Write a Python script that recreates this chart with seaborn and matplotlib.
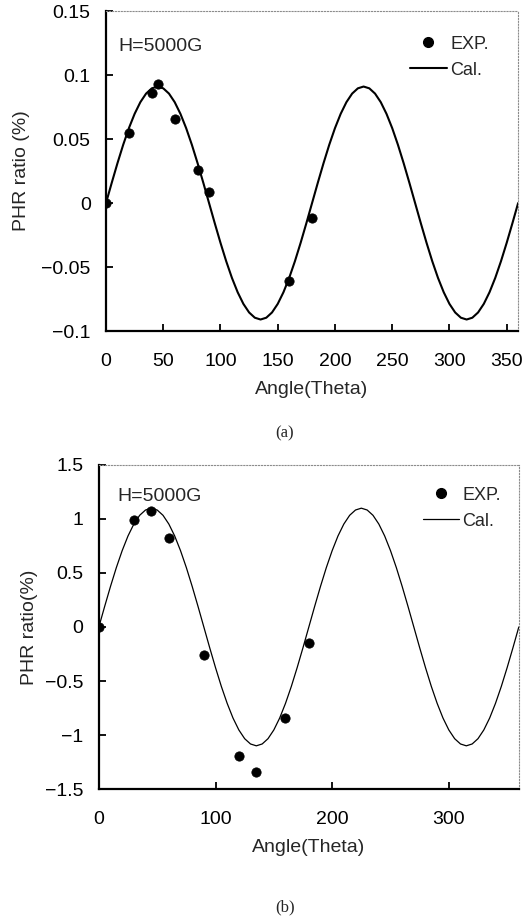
import numpy as np
import matplotlib
matplotlib.use("Agg")
import matplotlib.pyplot as plt
import seaborn as sns
from matplotlib.lines import Line2D

# measured points (EXP.) and calculated curve (Cal.) for both panels
exp_a_theta = [0, 20, 40, 45, 60, 80, 90, 160, 180]
exp_a_phr = [0.0, 0.055, 0.0856, 0.093, 0.066, 0.0255, 0.009, -0.061, -0.012]

exp_b_theta = [0, 30, 45, 60, 90, 120, 135, 160, 180]
exp_b_phr = [0.0, 0.99, 1.07, 0.82, -0.256, -1.19, -1.34, -0.84, -0.145]

cal_theta = [0, 5, 10, 15, 20, 25, 30, 35, 40, 45, 50, 55, 60, 65, 70, 75, 80, 85,
             90, 95, 100, 105, 110, 115, 120, 125, 130, 135, 140, 145, 150, 155, 160, 165, 170, 175,
             180, 185, 190, 195, 200, 205, 210, 215, 220, 225, 230, 235, 240, 245, 250, 255, 260, 265,
             270, 275, 280, 285, 290, 295, 300, 305, 310, 315, 320, 325, 330, 335, 340, 345, 350, 355, 360]

cal_a = [0, 0.0158, 0.0311, 0.0455, 0.0585, 0.0697, 0.0788, 0.0855, 0.0896, 0.091,
         0.0896, 0.0855, 0.0788, 0.0697, 0.0585, 0.0455, 0.0311, 0.0158,
         0, -0.0158, -0.0311, -0.0455, -0.0585, -0.0697, -0.0788, -0.0855, -0.0896, -0.091,
         -0.0896, -0.0855, -0.0788, -0.0697, -0.0585, -0.0455, -0.0311, -0.0158,
         0, 0.0158, 0.0311, 0.0455, 0.0585, 0.0697, 0.0788, 0.0855, 0.0896, 0.091,
         0.0896, 0.0855, 0.0788, 0.0697, 0.0585, 0.0455, 0.0311, 0.0158,
         0, -0.0158, -0.0311, -0.0455, -0.0585, -0.0697, -0.0788, -0.0855, -0.0896, -0.091,
         -0.0896, -0.0855, -0.0788, -0.0697, -0.0585, -0.0455, -0.0311, -0.0158, 0]

cal_b = [0, 0.191, 0.376, 0.55, 0.707, 0.843, 0.953, 1.034, 1.083, 1.1,
         1.083, 1.034, 0.953, 0.843, 0.707, 0.55, 0.376, 0.191,
         0, -0.191, -0.376, -0.55, -0.707, -0.843, -0.953, -1.034, -1.083, -1.1,
         -1.083, -1.034, -0.953, -0.843, -0.707, -0.55, -0.376, -0.191,
         0, 0.191, 0.376, 0.55, 0.707, 0.843, 0.953, 1.034, 1.083, 1.1,
         1.083, 1.034, 0.953, 0.843, 0.707, 0.55, 0.376, 0.191,
         0, -0.191, -0.376, -0.55, -0.707, -0.843, -0.953, -1.034, -1.083, -1.1,
         -1.083, -1.034, -0.953, -0.843, -0.707, -0.55, -0.376, -0.191, 0]

sns.set_style("ticks")
plt.rcParams['font.family'] = ['Liberation Sans', 'DejaVu Sans']

fig = plt.figure(figsize=(5.23, 9.18), dpi=100)
ax_a = fig.add_axes([0.2027, 0.6394, 0.788, 0.3486])
ax_b = fig.add_axes([0.189, 0.1405, 0.803, 0.353])


def style_axes(ax, xticks, yticks, ylim, ylabel, ytick_labels, ylabelpad):
    ax.set_xlim(0, 360)
    ax.set_ylim(*ylim)
    ax.set_xticks(xticks)
    ax.set_yticks(yticks)
    ax.set_yticklabels(ytick_labels)
    for side in ['left', 'bottom']:
        ax.spines[side].set_color('black')
        ax.spines[side].set_linewidth(1.6)
    for side in ['top', 'right']:
        ax.spines[side].set_visible(True)
        ax.spines[side].set_color('0.55')
        ax.spines[side].set_linewidth(0.8)
        ax.spines[side].set_linestyle(':')
    ax.tick_params(direction='in', length=5, width=1.3, labelsize=14, colors='black')
    ax.tick_params(axis='x', pad=16)
    ax.tick_params(axis='y', pad=11)
    ax.set_xlabel('Angle(Theta)', fontsize=14, labelpad=8)
    ax.set_ylabel(ylabel, fontsize=14, labelpad=ylabelpad)
    ax.grid(False)


# panel (a)
sns.lineplot(x=cal_theta, y=cal_a, color='black', linewidth=1.5, ax=ax_a)
sns.scatterplot(x=exp_a_theta, y=exp_a_phr, color='black', edgecolor='black', s=45, ax=ax_a, zorder=3)
style_axes(ax_a, [0, 50, 100, 150, 200, 250, 300, 350], [-0.1, -0.05, 0, 0.05, 0.1, 0.15],
           (-0.1, 0.15), 'PHR ratio (%)', ['\u22120.1', '\u22120.05', '0', '0.05', '0.1', '0.15'], 8)
ax_a.text(10.5, 0.1225, 'H=5000G', fontsize=14, va='center', ha='left')

# panel (b)
sns.lineplot(x=cal_theta, y=cal_b, color='black', linewidth=0.9, ax=ax_b)
sns.scatterplot(x=exp_b_theta, y=exp_b_phr, color='black', edgecolor='black', s=45, ax=ax_b, zorder=3)
style_axes(ax_b, [0, 100, 200, 300], [-1.5, -1, -0.5, 0, 0.5, 1, 1.5],
           (-1.5, 1.5), 'PHR ratio(%)', ['\u22121.5', '\u22121', '\u22120.5', '0', '0.5', '1', '1.5'], 5)
ax_b.text(16, 1.21, 'H=5000G', fontsize=14, va='center', ha='left')

for ax, lw, anchor in [(ax_a, 1.5, (0.946, 0.946)), (ax_b, 0.9, (0.975, 0.955))]:
    handles = [Line2D([], [], marker='o', color='black', linestyle='none', markersize=7),
               Line2D([], [], color='black', linewidth=lw)]
    ax.legend(handles, ['EXP.', 'Cal.'], loc='upper right', bbox_to_anchor=anchor,
              frameon=False, fontsize=13, handlelength=2.0, handletextpad=0.2,
              labelspacing=0.5, borderaxespad=0)

fig.text(285 / 523, 1 - 433 / 918, '(a)', family='Liberation Serif', fontsize=12, ha='center', va='center')
fig.text(285 / 523, 1 - 907 / 918, '(b)', family='Liberation Serif', fontsize=12, ha='center', va='center')

fig.savefig('out.png', dpi=100)
